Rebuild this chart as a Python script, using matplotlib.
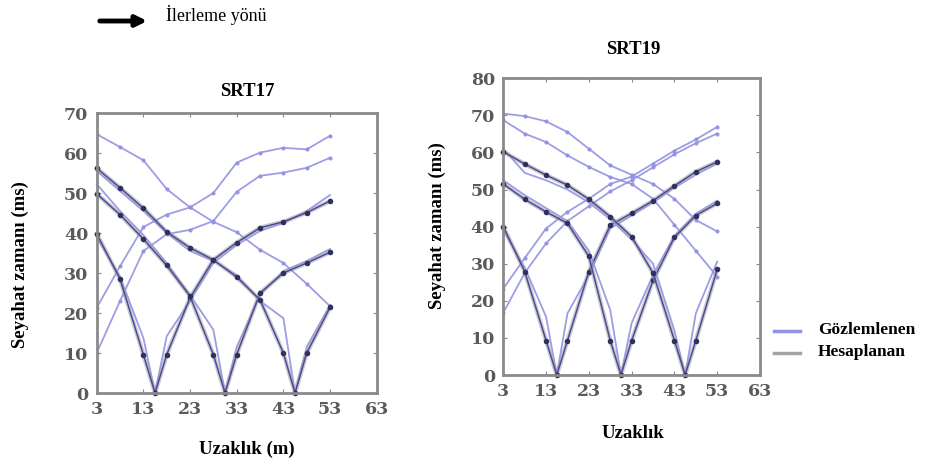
import matplotlib
matplotlib.use("Agg")
import matplotlib.pyplot as plt
from matplotlib.patches import FancyArrowPatch

plt.rcParams['font.family'] = ['Liberation Serif', 'DejaVu Serif']

# receiver positions (m) and shot points (m)
receivers = [3, 8, 13, 18, 23, 28, 33, 38, 43, 48, 53]
shots = [15.5, 30.5, 45.5]

# SRT17 travel times (ms) at each receiver, one list per shot
srt17_calc_15 = [39.8, 28.5, 9.6, 9.6, 23.8, 33.3, 37.6, 41.3, 42.8, 45.1, 48.0]
srt17_calc_30 = [49.8, 44.6, 38.5, 31.9, 24.2, 9.6, 9.6, 25.0, 30.0, 32.5, 35.2]
srt17_calc_45 = [56.2, 51.3, 46.2, 40.3, 36.3, 33.3, 29.0, 23.3, 10.0, 10.0, 21.4]
srt17_obs_15 = [39.0, 29.0, 13.8, 14.2, 23.0, 32.5, 37.0, 40.5, 42.5, 45.5, 49.5]
srt17_obs_30 = [52.2, 45.5, 39.5, 32.5, 24.5, 15.8, 11.5, 24.5, 30.5, 33.0, 36.0]
srt17_obs_45 = [55.5, 50.5, 45.5, 40.0, 35.5, 33.0, 29.5, 23.0, 18.7, 11.5, 22.0]
# off-end shots (observed only)
srt17_end_r = [64.7, 61.5, 58.2, 51.0, 46.4, 42.8, 40.2, 35.8, 32.5, 27.3, 21.7]
srt17_end_l1 = [21.3, 31.7, 41.5, 44.6, 46.4, 50.0, 57.6, 60.1, 61.3, 60.9, 64.3]
srt17_end_l2 = [10.0, 23.0, 35.5, 39.7, 40.8, 43.0, 50.3, 54.3, 55.1, 56.3, 58.8]

# SRT19 travel times (ms)
srt19_calc_15 = [40.0, 27.9, 9.3, 9.3, 27.9, 40.4, 43.6, 47.0, 51.0, 54.8, 57.5]
srt19_calc_30 = [51.5, 47.4, 44.0, 40.9, 32.0, 9.3, 9.3, 25.5, 37.1, 43.0, 46.3]
srt19_calc_45 = [60.2, 56.9, 53.9, 51.2, 47.4, 42.7, 37.3, 27.5, 9.3, 9.3, 28.5]
srt19_obs_15 = [39.0, 29.0, 15.7, 16.6, 27.0, 39.5, 43.0, 46.5, 50.5, 54.0, 57.0]
srt19_obs_30 = [52.5, 48.5, 45.0, 41.5, 33.5, 17.5, 14.0, 27.0, 37.5, 43.5, 47.0]
srt19_obs_45 = [61.0, 54.5, 52.5, 50.0, 46.5, 42.0, 36.5, 30.0, 12.0, 16.6, 30.6]
srt19_end_r1 = [70.5, 69.8, 68.4, 65.5, 61.0, 56.5, 54.0, 51.5, 47.5, 41.8, 38.7]
srt19_end_r2 = [68.7, 65.1, 62.8, 59.2, 56.1, 53.4, 51.5, 47.5, 40.5, 33.5, 26.5]
srt19_end_l1 = [23.3, 31.5, 39.5, 44.0, 47.5, 51.5, 53.5, 57.0, 60.5, 63.5, 66.9]
srt19_end_l2 = [16.8, 27.5, 35.5, 41.5, 45.5, 49.5, 52.5, 56.0, 59.5, 62.5, 65.1]

OBS = "#9292e4"
CALC = "#a3a3a3"
NAVY = "#4a4a9c"
AXIS = "#8a8a8a"


def with_shot(shot, times):
    pts = sorted(list(zip(receivers, times)) + [(shot, 0.0)])
    return [p[0] for p in pts], [p[1] for p in pts]


def draw_panel(ax, calc, obs, ends, ymax):
    for t in ends:
        ax.plot(receivers, t, color=OBS, lw=1.3, marker="o", ms=2, alpha=0.9)
    for shot, c, o in zip(shots, calc, obs):
        x, yo = with_shot(shot, o)
        _, yc = with_shot(shot, c)
        ax.plot(x, yo, color=OBS, lw=1.3, alpha=0.9, clip_on=False)
        ax.plot(x, yc, color=CALC, lw=3.2, alpha=0.55, clip_on=False)
        ax.plot(x, yc, color=NAVY, lw=1.1, marker="o", ms=4,
                mfc="#30305e", mec="none", clip_on=False)

    ax.set_xlim(3, 63)
    ax.set_ylim(0, ymax)
    ax.set_xticks(range(3, 64, 10))
    ax.set_yticks(range(0, ymax + 1, 10))
    for s in ax.spines.values():
        s.set_color(AXIS)
        s.set_linewidth(2)
    ax.tick_params(direction="in", length=3, color=AXIS, top=True, right=True,
                   labelsize=12.5, labelcolor="#5a5a5a", pad=6)
    for lab in ax.get_xticklabels() + ax.get_yticklabels():
        lab.set_fontfamily("DejaVu Serif")
        lab.set_fontweight("bold")


fig = plt.figure(figsize=(9.3, 4.68), dpi=100)
W, H = 930.0, 468.0

ax1 = fig.add_axes([96.7 / W, 1 - 393 / H, 280 / W, 280 / H])
draw_panel(ax1, [srt17_calc_15, srt17_calc_30, srt17_calc_45],
           [srt17_obs_15, srt17_obs_30, srt17_obs_45],
           [srt17_end_r, srt17_end_l1, srt17_end_l2], 70)

ax2 = fig.add_axes([503.3 / W, 1 - 375 / H, 256.7 / W, 296.7 / H])
draw_panel(ax2, [srt19_calc_15, srt19_calc_30, srt19_calc_45],
           [srt19_obs_15, srt19_obs_30, srt19_obs_45],
           [srt19_end_r1, srt19_end_r2, srt19_end_l1, srt19_end_l2], 80)


def ftext(x, y, s, **kw):
    fig.text(x / W, 1 - y / H, s, **kw)


bold = dict(fontsize=13.5, fontweight="bold", ha="center", va="center")
ftext(247, 92, "SRT17", **bold)
ftext(633, 50, "SRT19", **bold)
ftext(20, 265, "Seyahat zamanı (ms)", rotation=90, **bold)
ftext(437, 226, "Seyahat zamanı (ms)", rotation=90, **bold)
ftext(247, 449, "Uzaklık (m)", **bold)
ftext(633, 433, "Uzaklık", **bold)

# legend
for y, col, lab in [(331, OBS, "Gözlemlenen"), (353, CALC, "Hesaplanan")]:
    fig.add_artist(plt.Line2D([774 / W, 800 / W], [1 - y / H, 1 - y / H],
                              color=col, lw=2.5, transform=fig.transFigure))
    ftext(818, y - 1, lab, fontsize=12.5, fontweight="bold", va="center")

# direction arrow
arrow = FancyArrowPatch((97 / W, 1 - 21 / H), (150 / W, 1 - 21 / H),
                        transform=fig.transFigure, arrowstyle="-|>",
                        mutation_scale=16, lw=3.5, color="black")
fig.add_artist(arrow)
ftext(166, 15, "İlerleme yönü", fontsize=13, va="center")

fig.savefig("out.png", dpi=100)
